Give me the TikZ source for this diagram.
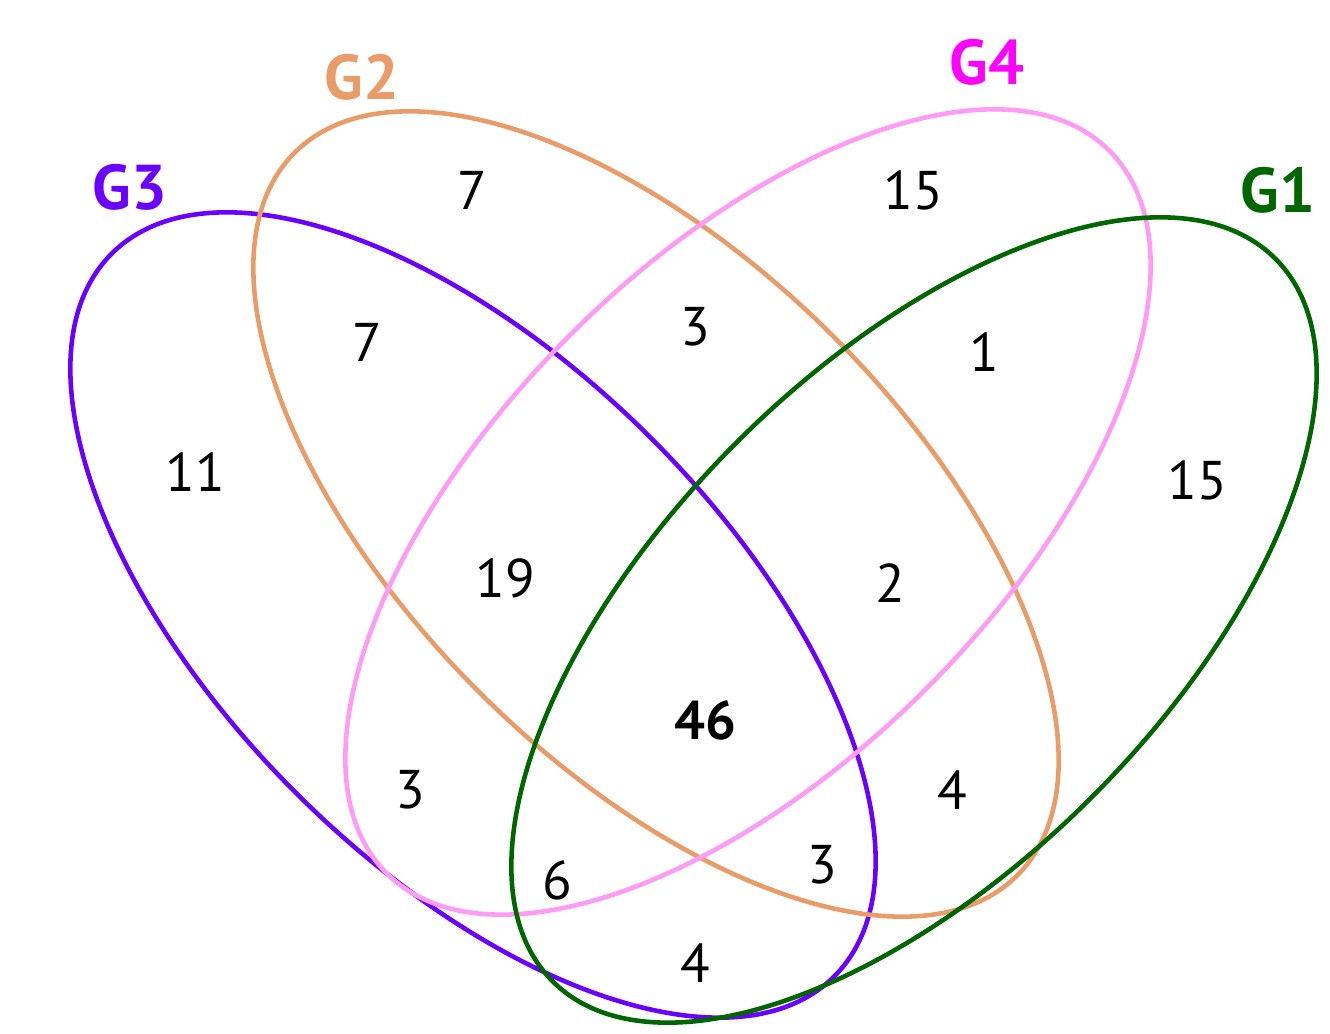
\documentclass[tikz,border=0pt]{standalone}
\usepackage{fontspec}
\setmainfont{PT Sans}
\definecolor{gone}{HTML}{006600}
\definecolor{gtwo}{HTML}{E99C68}
\definecolor{gthree}{HTML}{6A00FF}
\definecolor{gfour}{HTML}{FF9BF5}
\definecolor{gfourtext}{HTML}{FF00FF}
\tikzset{
  set/.style={line width=1.3pt},
  count/.style={font=\fontsize{15.5}{18}\selectfont, inner sep=0pt},
  setlabel/.style={font=\fontsize{18}{22}\selectfont\bfseries, inner sep=0pt},
}
\begin{document}
\begin{tikzpicture}[x=0.01cm, y=-0.01cm]
  \useasboundingbox (0,0) rectangle (1330,1034);
  % the four sets
  \draw[set, gthree, rotate around={-45:(473,615)}] (473,615) ellipse (511 and 251);
  \draw[set, gtwo, rotate around={-45:(656,514)}] (656,514) ellipse (511 and 251);
  \draw[set, gfour, rotate around={45:(748,512)}] (748,512) ellipse (511 and 251);
  \draw[set, gone, rotate around={45:(914,620)}] (914,620) ellipse (511 and 251);
  % set names
  \node[setlabel, gthree] (g3) at (130,187) {G3};
  \node[setlabel, gtwo] (g2) at (362,77) {G2};
  \node[setlabel, gfourtext] (g4) at (987,62) {G4};
  \node[setlabel, gone] (g1) at (1278,190) {G1};
  % counts
  \node[count] (n2) at (472,190) {7};
  \node[count] (n4) at (913,190) {15};
  \node[count] (n23) at (367,342) {7};
  \node[count] (n24) at (695,327) {3};
  \node[count] (n14) at (984,352) {1};
  \node[count] (n3) at (195,472) {11};
  \node[count] (n1) at (1197,480) {15};
  \node[count] (n234) at (505,578) {19};
  \node[count] (n124) at (890,583) {2};
  \node[count, font=\fontsize{15.5}{18}\selectfont\bfseries] (nall) at (705,720) {46};
  \node[count] (n34) at (410,790) {3};
  \node[count] (n12) at (952,790) {4};
  \node[count] (n134) at (557,880) {6};
  \node[count] (n123) at (822,865) {3};
  \node[count] (n13) at (695,963) {4};
\end{tikzpicture}
\end{document}
